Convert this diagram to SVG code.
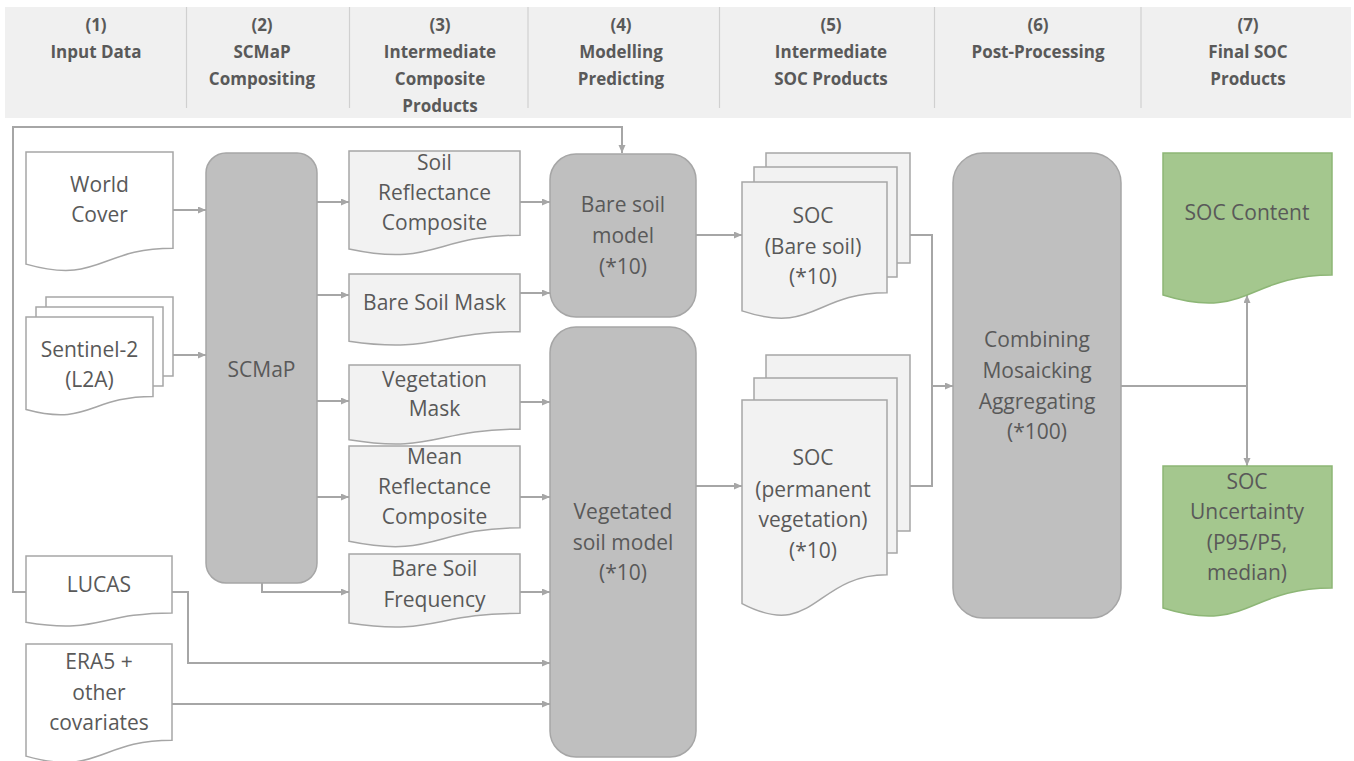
<svg xmlns="http://www.w3.org/2000/svg" width="1354" height="761" viewBox="0 0 1354 761">
<defs>
<marker id="ah" markerUnits="userSpaceOnUse" markerWidth="9" markerHeight="8" refX="8" refY="3.5" orient="auto">
<path d="M0,0 L8,3.5 L0,7 z" fill="#a6a6a6"/>
</marker>
<style>
.hdr{font-family:"Open Sans","Liberation Sans",sans-serif;font-weight:bold;font-size:17px;fill:#595959;text-anchor:middle}
.t{font-family:"Open Sans","Liberation Sans",sans-serif;font-size:21px;fill:#595959;text-anchor:middle}
.doc{fill:#ffffff;stroke:#a6a6a6;stroke-width:1.5}
.ldoc{fill:#f2f2f2;stroke:#a6a6a6;stroke-width:1.5}
.proc{fill:#bfbfbf;stroke:#a6a6a6;stroke-width:1.5}
.gdoc{fill:#a4c78e;stroke:#8db676;stroke-width:1.5}
.c{fill:none;stroke:#a6a6a6;stroke-width:2}
.ca{fill:none;stroke:#a6a6a6;stroke-width:2;marker-end:url(#ah)}
.div{stroke:#d0d0d0;stroke-width:1.2}
</style>
</defs>
<rect width="1354" height="761" fill="#ffffff"/>

<g id="header">
<rect x="5" y="7" width="1346" height="111" fill="#f0f0f0"/>
<line class="div" x1="186.5" y1="7" x2="186.5" y2="108"/>
<line class="div" x1="349.5" y1="7" x2="349.5" y2="108"/>
<line class="div" x1="528" y1="7" x2="528" y2="108"/>
<line class="div" x1="719.5" y1="7" x2="719.5" y2="108"/>
<line class="div" x1="934.5" y1="7" x2="934.5" y2="108"/>
<line class="div" x1="1141" y1="7" x2="1141" y2="108"/>
<text class="hdr" x="96" y="31">(1)</text>
<text class="hdr" x="96" y="58">Input Data</text>
<text class="hdr" x="262" y="31">(2)</text>
<text class="hdr" x="262" y="58">SCMaP</text>
<text class="hdr" x="262" y="85">Compositing</text>
<text class="hdr" x="440" y="31">(3)</text>
<text class="hdr" x="440" y="58">Intermediate</text>
<text class="hdr" x="440" y="85">Composite</text>
<text class="hdr" x="440" y="112">Products</text>
<text class="hdr" x="621" y="31">(4)</text>
<text class="hdr" x="621" y="58">Modelling</text>
<text class="hdr" x="621" y="85">Predicting</text>
<text class="hdr" x="831" y="31">(5)</text>
<text class="hdr" x="831" y="58">Intermediate</text>
<text class="hdr" x="831" y="85">SOC Products</text>
<text class="hdr" x="1038" y="31">(6)</text>
<text class="hdr" x="1038" y="58">Post-Processing</text>
<text class="hdr" x="1248" y="31">(7)</text>
<text class="hdr" x="1248" y="58">Final SOC</text>
<text class="hdr" x="1248" y="85">Products</text>
</g>

<g id="connectors">
<path class="ca" d="M173,210 H206"/>
<path class="ca" d="M173,355 H206"/>
<path class="ca" d="M317,202 H349"/>
<path class="ca" d="M317,295 H349"/>
<path class="ca" d="M317,401 H349"/>
<path class="ca" d="M317,497 H349"/>
<path class="ca" d="M262,583 V592 H349"/>
<path class="ca" d="M520,202 H550"/>
<path class="ca" d="M520,293 H550"/>
<path class="ca" d="M520,402 H550"/>
<path class="ca" d="M520,497 H550"/>
<path class="ca" d="M520,592 H550"/>
<path class="ca" d="M172,592 H188 V663 H550"/>
<path class="ca" d="M172,704 H550"/>
<path class="ca" d="M26,592 H13 V127 H622 V153"/>
<path class="ca" d="M696,235 H742"/>
<path class="ca" d="M696,486 H742"/>
<path class="ca" d="M910,235 H932 V386 H953"/>
<path class="c" d="M910,486 H932 V386"/>
<path class="ca" d="M1121,386 H1247 V295"/>
<path class="ca" d="M1247,386 V466"/>
</g>

<g id="world-cover">
<path class="doc" d="M26,152 H173 V248.2 C99.5,248.2 99.5,284.8 26,264.1 Z"/>
<text class="t" x="99.5" y="192">World</text>
<text class="t" x="99.5" y="222">Cover</text>
</g>

<g id="sentinel-2">
<rect class="doc" x="46" y="297" width="127" height="79"/>
<rect class="doc" x="36" y="307" width="127" height="79"/>
<path class="doc" d="M26,317 H153 V396.4 C89.5,396.4 89.5,426.6 26,409.5 Z"/>
<text class="t" x="89.5" y="357">Sentinel-2</text>
<text class="t" x="89.5" y="387">(L2A)</text>
</g>

<g id="lucas">
<path class="doc" d="M26,556 H172 V612.9 C99,612.9 99,634.6 26,622.3 Z"/>
<text class="t" x="99" y="592">LUCAS</text>
</g>

<g id="era5">
<path class="doc" d="M26,644 H172 V740.2 C99,740.2 99,776.8 26,756.1 Z"/>
<text class="t" x="99" y="669">ERA5 +</text>
<text class="t" x="99" y="700">other</text>
<text class="t" x="99" y="730">covariates</text>
</g>

<g id="scmap">
<rect class="proc" x="206" y="153" width="111" height="430" rx="20"/>
<text class="t" x="261.5" y="377">SCMaP</text>
</g>

<g id="soil-reflectance-composite">
<path class="ldoc" d="M349,151 H520 V235.2 C434.5,235.2 434.5,267.2 349,249.1 Z"/>
<text class="t" x="434.5" y="170">Soil</text>
<text class="t" x="434.5" y="200">Reflectance</text>
<text class="t" x="434.5" y="230">Composite</text>
</g>

<g id="bare-soil-mask">
<path class="ldoc" d="M349,274 H520 V331.7 C434.5,331.7 434.5,353.7 349,341.2 Z"/>
<text class="t" x="434.5" y="310">Bare Soil Mask</text>
</g>

<g id="vegetation-mask">
<path class="ldoc" d="M349,365 H520 V429.2 C434.5,429.2 434.5,453.6 349,439.7 Z"/>
<text class="t" x="434.5" y="387">Vegetation</text>
<text class="t" x="434.5" y="416">Mask</text>
</g>

<g id="mean-reflectance-composite">
<path class="ldoc" d="M349,446 H520 V527.8 C434.5,527.8 434.5,558.9 349,541.3 Z"/>
<text class="t" x="434.5" y="464">Mean</text>
<text class="t" x="434.5" y="494">Reflectance</text>
<text class="t" x="434.5" y="524">Composite</text>
</g>

<g id="bare-soil-frequency">
<path class="ldoc" d="M349,554 H520 V613.3 C434.5,613.3 434.5,635.9 349,623.1 Z"/>
<text class="t" x="434.5" y="576">Bare Soil</text>
<text class="t" x="434.5" y="607">Frequency</text>
</g>

<g id="bare-soil-model">
<rect class="proc" x="550" y="154" width="146" height="163" rx="26"/>
<text class="t" x="623" y="212">Bare soil</text>
<text class="t" x="623" y="243">model</text>
<text class="t" x="623" y="274">(*10)</text>
</g>

<g id="vegetated-soil-model">
<rect class="proc" x="550" y="327" width="146" height="430" rx="26"/>
<text class="t" x="623" y="519">Vegetated</text>
<text class="t" x="623" y="550">soil model</text>
<text class="t" x="623" y="580">(*10)</text>
</g>

<g id="soc-bare-soil">
<rect class="ldoc" x="766" y="153" width="144" height="110"/>
<rect class="ldoc" x="754" y="167" width="143" height="110"/>
<path class="ldoc" d="M742,182 H887 V292.7 C814.5,292.7 814.5,334.8 742,310.9 Z"/>
<text class="t" x="813" y="223">SOC</text>
<text class="t" x="813" y="254">(Bare soil)</text>
<text class="t" x="813" y="284">(*10)</text>
</g>

<g id="soc-permanent-vegetation">
<rect class="ldoc" x="766" y="355" width="144" height="176"/>
<rect class="ldoc" x="754" y="378" width="143" height="175"/>
<path class="ldoc" d="M742,400 H887 V574.8 C814.5,574.8 814.5,641.3 742,603.6 Z"/>
<text class="t" x="813" y="465">SOC</text>
<text class="t" x="813" y="497">(permanent</text>
<text class="t" x="813" y="527">vegetation)</text>
<text class="t" x="813" y="558">(*10)</text>
</g>

<g id="combining">
<rect class="proc" x="953" y="153" width="168" height="465" rx="30"/>
<text class="t" x="1037" y="347">Combining</text>
<text class="t" x="1037" y="378">Mosaicking</text>
<text class="t" x="1037" y="409">Aggregating</text>
<text class="t" x="1037" y="439">(*100)</text>
</g>

<g id="soc-content">
<path class="gdoc" d="M1163,153 H1332 V274.9 C1247.5,274.9 1247.5,321.3 1163,295 Z"/>
<text class="t" x="1247" y="220">SOC Content</text>
</g>

<g id="soc-uncertainty">
<path class="gdoc" d="M1163,466 H1332 V587.9 C1247.5,587.9 1247.5,634.3 1163,608 Z"/>
<text class="t" x="1247" y="489">SOC</text>
<text class="t" x="1247" y="519">Uncertainty</text>
<text class="t" x="1247" y="550">(P95/P5,</text>
<text class="t" x="1247" y="580">median)</text>
</g>
</svg>
